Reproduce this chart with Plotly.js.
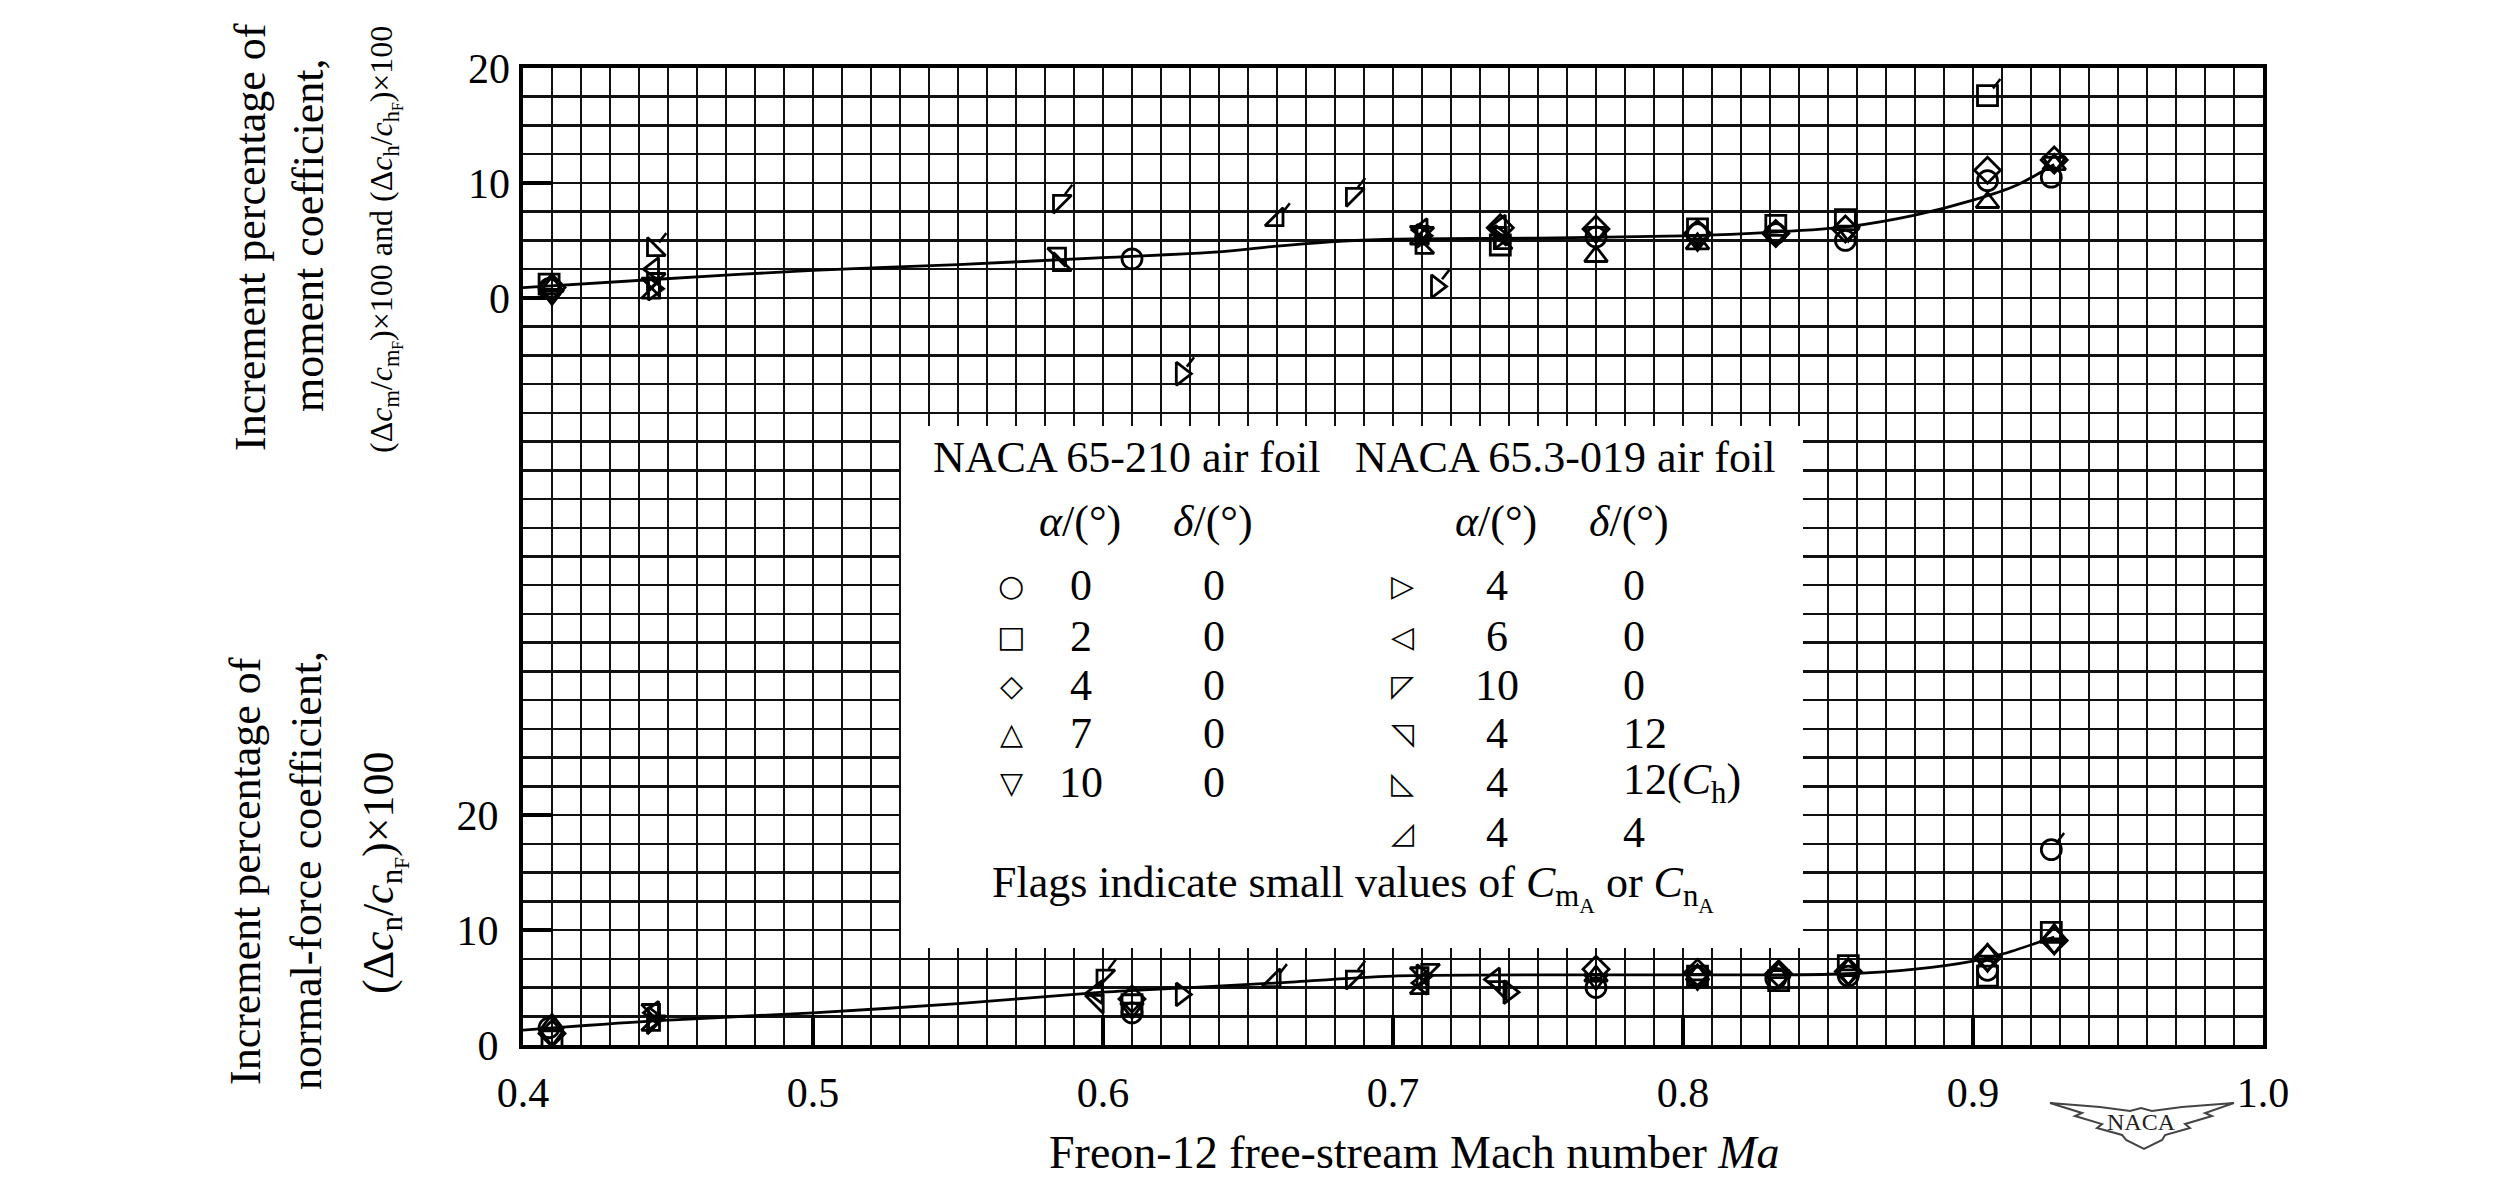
<!DOCTYPE html>
<html>
<head>
<meta charset="utf-8">
<script src="https://cdn.plot.ly/plotly-3.0.1.min.js"></script>
<style>
  html, body { margin: 0; padding: 0; background: #fff; }
  #chart { width: 2519px; height: 1177px; }
</style>
</head>
<body>
<div id="chart"></div>
<script>
// axis ticks
const MACH_TICKS = [0.4, 0.5, 0.6, 0.7, 0.8, 0.9, 1.0];
const MACH_LABELS = ["0.4", "0.5", "0.6", "0.7", "0.8", "0.9", "1.0"];
const PCT_TICKS = [0, 10, 20];
const PCT_LABELS = ["0", "10", "20"];

// faired curves
const fairMomentMa  = [0.40, 0.445, 0.50, 0.55, 0.60, 0.64, 0.66, 0.68, 0.70, 0.75, 0.80, 0.83, 0.857, 0.88, 0.90, 0.915, 0.928];
const fairMomentPct = [0.9, 1.6, 2.4, 2.9, 3.5, 4.0, 4.5, 4.9, 5.1, 5.2, 5.4, 5.7, 6.2, 7.2, 8.5, 9.8, 11.6];
const fairNormalMa  = [0.40, 0.445, 0.50, 0.55, 0.60, 0.63, 0.66, 0.70, 0.77, 0.83, 0.857, 0.88, 0.90, 0.91, 0.928];
const fairNormalPct = [1.3, 2.1, 2.8, 3.6, 4.6, 5.0, 5.4, 6.0, 6.1, 6.1, 6.2, 6.6, 7.3, 7.9, 9.4];

// legend table
const FOIL1_NAME = "NACA 65-210 air foil";
const FOIL1_ALPHA = ["0", "2", "4", "7", "10"];
const FOIL1_DELTA = ["0", "0", "0", "0", "0"];
const FOIL1_GLYPH = ["\u25CB", "\u25A1", "\u25C7", "\u25B3", "\u25BD"];
const FOIL1_SYMBOL = ["circle-open", "square-open", "diamond-open", "triangle-up-open", "triangle-down-open"];

const FOIL2_NAME = "NACA 65.3-019 air foil";
const FOIL2_ALPHA = ["4", "6", "10", "4", "4", "4"];
const FOIL2_DELTA = ["0", "0", "0", "12", "12(<i>C</i><sub>h</sub>)", "4"];
const FOIL2_GLYPH = ["\u25B7", "\u25C1", "\u25F8", "\u25F9", "\u25FA", "\u25FF"];
const FOIL2_SYMBOL = ["triangle-right-open", "triangle-left-open", "triangle-nw-open", "triangle-ne-open", "triangle-sw-open", "triangle-se-open"];

// moment band (upper), NACA 65-210
const mA0Ma  = [0.409, 0.61, 0.77, 0.805, 0.832, 0.856, 0.905, 0.927];
const mA0Pct = [0.8, 3.4, 5.3, 5.6, 5.6, 5.0, 10.2, 10.5];
const mA2Ma  = [0.409, 0.737, 0.805, 0.832, 0.856, 0.905];
const mA2Pct = [1.2, 4.6, 6.0, 6.3, 6.8, 17.6];
const mA4Ma  = [0.41, 0.737, 0.77, 0.805, 0.832, 0.856, 0.905, 0.928];
const mA4Pct = [0.9, 6.1, 6.0, 5.6, 5.6, 6.0, 11.1, 12.0];
const mA7Ma  = [0.41, 0.77, 0.805, 0.905, 0.928];
const mA7Pct = [1.0, 3.6, 4.7, 8.3, 11.6];
const mA10Ma  = [0.41, 0.77, 0.805, 0.832, 0.857, 0.928];
const mA10Pct = [0.3, 5.7, 5.0, 5.4, 5.8, 11.8];

// moment band (upper), NACA 65.3-019
const mR4Ma  = [0.445, 0.627, 0.71, 0.715, 0.737];
const mR4Pct = [0.8, -6.6, 5.4, 1.0, 5.3];
const mL6Ma  = [0.445, 0.71, 0.737];
const mL6Pct = [2.5, 5.9, 6.2];
const mNW10Ma  = [0.445, 0.585, 0.686, 0.71];
const mNW10Pct = [1.6, 8.4, 9.0, 5.6];
const mNE12Ma  = [0.445, 0.585, 0.71, 0.737];
const mNE12Pct = [1.2, 3.8, 5.7, 5.6];
const mSW12Ma  = [0.445, 0.585, 0.71, 0.737];
const mSW12Pct = [4.2, 2.9, 4.4, 4.8];
const mSE4Ma  = [0.445, 0.66, 0.71];
const mSE4Pct = [0.5, 6.8, 5.2];

// normal-force band (lower), NACA 65-210
const nA0Ma  = [0.409, 0.61, 0.77, 0.805, 0.832, 0.857, 0.905, 0.927];
const nA0Pct = [1.5, 2.8, 5.0, 5.9, 5.8, 6.0, 6.5, 17.0];
const nA2Ma  = [0.41, 0.61, 0.805, 0.833, 0.857, 0.905, 0.927];
const nA2Pct = [0.4, 3.5, 6.0, 5.6, 6.9, 6.0, 9.8];
const nA4Ma  = [0.41, 0.61, 0.77, 0.805, 0.833, 0.857, 0.905, 0.928];
const nA4Pct = [1.0, 4.0, 6.6, 6.3, 6.2, 6.4, 7.6, 9.1];
const nA7Ma  = [0.41, 0.77, 0.805, 0.833, 0.857, 0.905, 0.928];
const nA7Pct = [1.8, 6.0, 6.1, 6.3, 6.6, 7.9, 9.6];
const nA10Ma  = [0.41, 0.61, 0.77, 0.805, 0.857, 0.905, 0.928];
const nA10Pct = [0.8, 3.2, 5.7, 5.7, 6.1, 7.3, 8.8];

// normal-force band (lower), NACA 65.3-019
const nR4Ma  = [0.445, 0.627, 0.71, 0.74];
const nR4Pct = [2.3, 4.4, 6.0, 4.6];
const nL6Ma  = [0.445, 0.598, 0.71, 0.735];
const nL6Pct = [2.8, 4.6, 5.4, 5.7];
const nNW10Ma  = [0.445, 0.60, 0.686, 0.712];
const nNW10Pct = [2.0, 6.0, 5.9, 6.5];
const nNE12Ma  = [0.445, 0.598, 0.71, 0.737];
const nNE12Pct = [3.0, 3.8, 6.2, 5.0];
const nSE4Ma  = [0.445, 0.659, 0.71];
const nSE4Pct = [1.8, 5.6, 5.0];

// flagged points (index into the series above)
const mA2Flags = [5];
const mR4Flags = [1, 3];
const mNW10Flags = [1, 2];
const mSW12Flags = [0];
const mSE4Flags = [1];
const nA0Flags = [7];
const nNW10Flags = [1, 2];
const nSE4Flags = [1];

// page geometry (px)
const W = 2519, H = 1177;
const L = 523, R = 2263, T = 68, B = 1045;
const SERIF = "Liberation Serif, Times New Roman, serif";

function fx(p) { return (p - L) / (R - L); }
function fy(p) { return (B - p) / (B - T); }

const traces = [];
const annotations = [];

function addSeries(xs, ys, symbol, yaxis, flags) {
  traces.push({
    x: xs, y: ys, yaxis: yaxis,
    type: "scatter", mode: "markers",
    marker: { symbol: symbol, size: 20, color: "#000", line: { color: "#000", width: 2.8 } },
    hoverinfo: "x+y", showlegend: false
  });
  (flags || []).forEach(i => {
    annotations.push({
      x: xs[i], y: ys[i], xref: "x", yref: yaxis,
      text: "", showarrow: true, arrowhead: 0, arrowwidth: 2.5, arrowcolor: "#000",
      ax: 14, ay: -18, standoff: 9
    });
  });
}

function addCurve(xs, ys, yaxis) {
  traces.push({
    x: xs, y: ys, yaxis: yaxis, type: "scatter", mode: "lines",
    line: { color: "#000", width: 2.8, shape: "spline", smoothing: 0.8 },
    hoverinfo: "skip", showlegend: false
  });
}

addCurve(fairMomentMa, fairMomentPct, "y2");
addCurve(fairNormalMa, fairNormalPct, "y");

addSeries(mA0Ma, mA0Pct, FOIL1_SYMBOL[0], "y2");
addSeries(mA2Ma, mA2Pct, FOIL1_SYMBOL[1], "y2", mA2Flags);
addSeries(mA4Ma, mA4Pct, FOIL1_SYMBOL[2], "y2");
addSeries(mA7Ma, mA7Pct, FOIL1_SYMBOL[3], "y2");
addSeries(mA10Ma, mA10Pct, FOIL1_SYMBOL[4], "y2");
addSeries(mR4Ma, mR4Pct, FOIL2_SYMBOL[0], "y2", mR4Flags);
addSeries(mL6Ma, mL6Pct, FOIL2_SYMBOL[1], "y2");
addSeries(mNW10Ma, mNW10Pct, FOIL2_SYMBOL[2], "y2", mNW10Flags);
addSeries(mNE12Ma, mNE12Pct, FOIL2_SYMBOL[3], "y2");
addSeries(mSW12Ma, mSW12Pct, FOIL2_SYMBOL[4], "y2", mSW12Flags);
addSeries(mSE4Ma, mSE4Pct, FOIL2_SYMBOL[5], "y2", mSE4Flags);

addSeries(nA0Ma, nA0Pct, FOIL1_SYMBOL[0], "y", nA0Flags);
addSeries(nA2Ma, nA2Pct, FOIL1_SYMBOL[1], "y");
addSeries(nA4Ma, nA4Pct, FOIL1_SYMBOL[2], "y");
addSeries(nA7Ma, nA7Pct, FOIL1_SYMBOL[3], "y");
addSeries(nA10Ma, nA10Pct, FOIL1_SYMBOL[4], "y");
addSeries(nR4Ma, nR4Pct, FOIL2_SYMBOL[0], "y");
addSeries(nL6Ma, nL6Pct, FOIL2_SYMBOL[1], "y");
addSeries(nNW10Ma, nNW10Pct, FOIL2_SYMBOL[2], "y", nNW10Flags);
addSeries(nNE12Ma, nNE12Pct, FOIL2_SYMBOL[3], "y");
addSeries(nSE4Ma, nSE4Pct, FOIL2_SYMBOL[5], "y", nSE4Flags);

// legend table as text
function note(text, xp, yp, opts) {
  annotations.push(Object.assign({
    text: text, x: fx(xp), y: fy(yp), xref: "paper", yref: "paper",
    showarrow: false, xanchor: "center", yanchor: "middle",
    font: { family: SERIF, size: 44, color: "#000" }
  }, opts || {}));
}

note(FOIL1_NAME, 1126, 457);
note(FOIL2_NAME, 1565, 457);
note("<i>α</i>/(°)", 1080, 521);
note("<i>δ</i>/(°)", 1213, 521);
note("<i>α</i>/(°)", 1496, 521);
note("<i>δ</i>/(°)", 1629, 521);
const ROW_Y = [586, 636, 685, 733, 783, 832];
const GLYPH_FONT = { family: "DejaVu Sans", size: 30, color: "#000" };
FOIL1_ALPHA.forEach((a, i) => {
  note(FOIL1_GLYPH[i], 1011, ROW_Y[i], { font: GLYPH_FONT });
  note(a, 1081, ROW_Y[i]);
  note(FOIL1_DELTA[i], 1214, ROW_Y[i]);
});
FOIL2_ALPHA.forEach((a, i) => {
  note(FOIL2_GLYPH[i], 1402, ROW_Y[i], { font: GLYPH_FONT });
  note(a, 1497, ROW_Y[i]);
  note(FOIL2_DELTA[i], 1621, ROW_Y[i], { xanchor: "left" });
});
note("Flags indicate small values of <i>C</i><sub>m<sub>A</sub></sub> or <i>C</i><sub>n<sub>A</sub></sub>", 1353, 888);

// axis titles
note("Increment percentage of", 250, 237, { textangle: -90 });
note("moment coefficient,", 308, 235, { textangle: -90 });
note("(Δ<i>c</i><sub>m</sub>/<i>c</i><sub>m<sub>F</sub></sub>)×100 and (Δ<i>c</i><sub>h</sub>/<i>c</i><sub>h<sub>F</sub></sub>)×100",
     384, 240, { textangle: -90, font: { family: SERIF, size: 32, color: "#000" } });
note("Increment percentage of", 245, 871, { textangle: -90 });
note("normal-force coefficient,", 306, 871, { textangle: -90 });
note("(Δ<i>c</i><sub>n</sub>/<i>c</i><sub>n<sub>F</sub></sub>)×100", 384, 873, { textangle: -90 });
note("Freon-12 free-stream Mach number <i>Ma</i>", 1414, 1152, { font: { family: SERIF, size: 46, color: "#000" } });
note("NACA", 2141, 1122, { font: { family: SERIF, size: 24, color: "#222" } });

// NACA wings outline
function wingPath() {
  const pts = [
    [2050, 1103], [2100, 1107], [2130, 1111], [2141, 1108], [2152, 1111], [2182, 1107], [2234, 1103],
    [2205, 1113], [2212, 1116], [2185, 1124], [2190, 1128], [2165, 1135], [2162, 1140], [2144, 1149],
    [2126, 1140], [2122, 1135], [2097, 1128], [2102, 1124], [2075, 1116], [2082, 1113]
  ];
  return pts.map((p, i) => (i ? "L" : "M") + fx(p[0]).toFixed(4) + "," + fy(p[1]).toFixed(4)).join(" ") + " Z";
}

const shapes = [
  {
    type: "rect", xref: "paper", yref: "paper", layer: "above",
    x0: fx(901), x1: fx(1803), y0: fy(948), y1: fy(426),
    fillcolor: "#fff", line: { width: 0 }
  },
  {
    type: "path", xref: "paper", yref: "paper", layer: "above",
    path: wingPath(), line: { color: "#444", width: 2 }, fillcolor: "rgba(0,0,0,0)"
  }
];

const layout = {
  width: W, height: H,
  paper_bgcolor: "#fff", plot_bgcolor: "#fff",
  margin: { l: L, r: W - R, t: T, b: H - B, pad: 0 },
  font: { family: SERIF, color: "#000", size: 42 },
  showlegend: false,
  xaxis: {
    range: [0.4, 1.0], tickmode: "array", tickvals: MACH_TICKS, ticktext: MACH_LABELS,
    showgrid: true, gridcolor: "#111", gridwidth: 2.5, zeroline: false,
    ticks: "inside", ticklen: 30, tickwidth: 3.5, tickcolor: "#000",
    showline: true, mirror: true, linecolor: "#000", linewidth: 4,
    tickfont: { family: SERIF, size: 42, color: "#000" }, ticklabelstandoff: 8,
    minor: { tick0: 0.4, dtick: 0.01, showgrid: true, gridcolor: "#111", gridwidth: 2.5, ticks: "" }
  },
  yaxis: {
    range: [0, 85], tickmode: "array", tickvals: PCT_TICKS, ticktext: PCT_LABELS,
    showgrid: true, gridcolor: "#111", gridwidth: 2.5, zeroline: false,
    ticks: "inside", ticklen: 30, tickwidth: 3.5, tickcolor: "#000",
    showline: true, mirror: true, linecolor: "#000", linewidth: 4,
    tickfont: { family: SERIF, size: 42, color: "#000" }, ticklabelstandoff: 12,
    minor: { tick0: 0, dtick: 2.5, showgrid: true, gridcolor: "#111", gridwidth: 2.5, ticks: "" }
  },
  yaxis2: {
    overlaying: "y", side: "left",
    range: [-65, 20], tickmode: "array", tickvals: PCT_TICKS, ticktext: PCT_LABELS,
    showgrid: false, zeroline: false, showline: false,
    ticks: "inside", ticklen: 30, tickwidth: 3.5, tickcolor: "#000",
    tickfont: { family: SERIF, size: 42, color: "#000" }, ticklabelstandoff: 12
  },
  shapes: shapes,
  annotations: annotations
};

Plotly.newPlot("chart", traces, layout, { staticPlot: true, displayModeBar: false });
</script>
</body>
</html>
